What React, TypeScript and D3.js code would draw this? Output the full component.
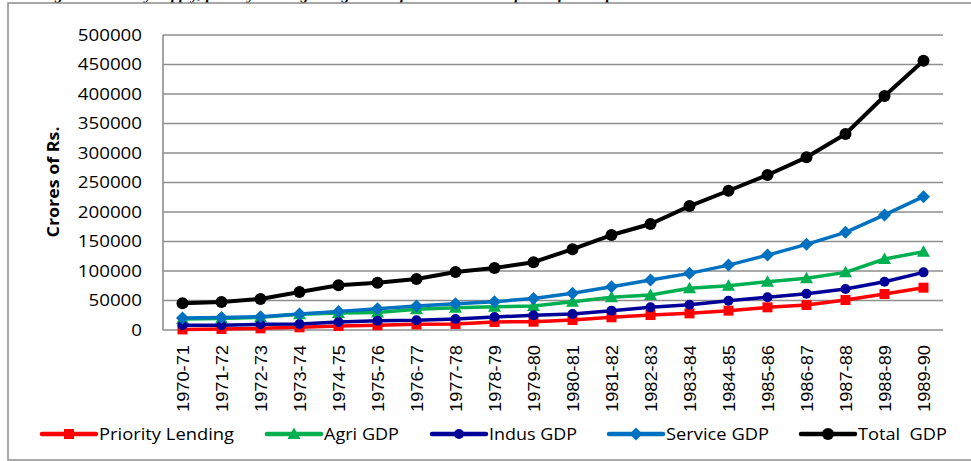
import { useMemo } from "react";
import * as d3 from "d3";

const W = 971;
const H = 461;
const MARGIN = { top: 35, right: 28, bottom: 131, left: 163 };

const years = [
  "1970-71", "1971-72", "1972-73", "1973-74", "1974-75", "1975-76", "1976-77",
  "1977-78", "1978-79", "1979-80", "1980-81", "1981-82", "1982-83", "1983-84",
  "1984-85", "1985-86", "1986-87", "1987-88", "1988-89", "1989-90",
];

const priorityLending = [1000, 1700, 2800, 4500, 6800, 8000, 9600, 10200, 13600, 14100, 17000, 21500, 25400, 28200, 32800, 38400, 42400, 50800, 61000, 71700];
const agriGdp = [18500, 19500, 21500, 26500, 29000, 29500, 35000, 37800, 39500, 40700, 48000, 55400, 59300, 70600, 75100, 81900, 87600, 97700, 120300, 132700];
const indusGdp = [8000, 8000, 9600, 10200, 13600, 15800, 16400, 18600, 22000, 24900, 27100, 32800, 38400, 42900, 49700, 55400, 61600, 69500, 81900, 97700];
const serviceGdp = [20300, 21000, 22500, 27100, 31500, 36000, 40500, 44500, 48000, 53500, 62200, 73400, 84700, 96000, 110000, 127000, 145200, 165500, 195000, 226000];
const totalGdp = [45300, 47500, 52500, 64400, 75700, 80200, 86400, 98300, 105000, 115000, 137000, 161000, 179700, 210000, 236000, 262700, 292700, 332200, 396600, 456400];

const yTicks = [0, 50000, 100000, 150000, 200000, 250000, 300000, 350000, 400000, 450000, 500000];

const series = [
  { name: "Priority Lending", values: priorityLending, color: "#ff0000", marker: "square", width: 3.5 },
  { name: "Agri GDP", values: agriGdp, color: "#00b050", marker: "triangle", width: 3.5 },
  { name: "Indus GDP", values: indusGdp, color: "#000099", marker: "circle", width: 3.5 },
  { name: "Service GDP", values: serviceGdp, color: "#0070c0", marker: "diamond", width: 3.5 },
  { name: "Total  GDP", values: totalGdp, color: "#000000", marker: "bigcircle", width: 4 },
];

// legend positions and label widths
const legendX = [42, 267, 432, 609, 801];
const legendTextW = [135, 75, 88, 103, 89];

const Marker = ({ type, x, y, color }: { type: string; x: number; y: number; color: string }) => {
  if (type === "square") return <rect x={x - 5} y={y - 5} width={10} height={10} fill={color} />;
  if (type === "triangle")
    return <path d={`M${x},${y - 6.5}L${x + 6.5},${y + 5}L${x - 6.5},${y + 5}Z`} fill={color} />;
  if (type === "diamond")
    return <path d={`M${x},${y - 6.5}L${x + 6.5},${y}L${x},${y + 6.5}L${x - 6.5},${y}Z`} fill={color} />;
  if (type === "bigcircle") return <circle cx={x} cy={y} r={6} fill={color} />;
  return <circle cx={x} cy={y} r={5} fill={color} />;
};

export default function App() {
  const boundsW = W - MARGIN.left - MARGIN.right;
  const boundsH = H - MARGIN.top - MARGIN.bottom;

  const xScale = useMemo(
    () => d3.scaleBand().domain(years).range([0, boundsW]),
    [boundsW]
  );
  const yScale = useMemo(
    () => d3.scaleLinear().domain([0, 500000]).range([boundsH, 0]),
    [boundsH]
  );

  const line = d3
    .line<number>()
    .x((_, i) => (xScale(years[i]) ?? 0) + xScale.bandwidth() / 2)
    .y((d) => yScale(d));

  return (
    <svg
      width={W}
      height={H}
      style={{ position: "absolute", left: 0, top: 0, background: "#fff" }}
    >
      {/* caption of the page, cut off above the frame */}
      <text
        x={40}
        y={-1}
        fontFamily="Liberation Serif"
        fontStyle="italic"
        fontWeight="bold"
        fontSize={16}
        fill="#000"
      >
        Figure 4: Money supply, priority lending and growth of GDP at current prices for the period 1970-71 to 1989-90
      </text>
      <rect x={8} y={3} width={W} height={457} fill="none" stroke="#8c8c8c" strokeWidth={1.5} />

      <g transform={`translate(${MARGIN.left},${MARGIN.top})`}>
        {yTicks.map((t) => (
          <g key={t}>
            <line x1={0} x2={boundsW} y1={yScale(t)} y2={yScale(t)} stroke="#8e8e8e" strokeWidth={1.6} />
            <text
              x={-21}
              y={yScale(t)}
              dy="0.36em"
              textAnchor="end"
              fontFamily="Open Sans"
              fontSize={16}
              fill="#000"
              textLength={String(t).length * 10.7}
              lengthAdjust="spacingAndGlyphs"
            >
              {t}
            </text>
          </g>
        ))}
        <line x1={0} x2={0} y1={0} y2={boundsH} stroke="#8e8e8e" strokeWidth={1.6} />

        <text
          transform={`translate(${53 - MARGIN.left},${182 - MARGIN.top}) rotate(-90)`}
          textAnchor="middle"
          dy="0.35em"
          fontFamily="Open Sans"
          fontWeight="bold"
          fontSize={16}
          textLength={111}
          lengthAdjust="spacingAndGlyphs"
        >
          Crores of Rs.
        </text>

        {years.map((yr) => (
          <text
            key={yr}
            transform={`translate(${(xScale(yr) ?? 0) + xScale.bandwidth() / 2},${boundsH + 15}) rotate(-90)`}
            textAnchor="end"
            dy="0.36em"
            fontFamily="Liberation Sans"
            fontSize={17}
            textLength={67}
            lengthAdjust="spacingAndGlyphs"
          >
            {yr}
          </text>
        ))}

        {series.map((s) => (
          <g key={s.name}>
            <path d={line(s.values) ?? ""} fill="none" stroke={s.color} strokeWidth={s.width} strokeLinejoin="round" />
            {s.values.map((v, i) => (
              <Marker
                key={i}
                type={s.marker}
                x={(xScale(years[i]) ?? 0) + xScale.bandwidth() / 2}
                y={yScale(v)}
                color={s.color}
              />
            ))}
          </g>
        ))}
      </g>

      {series.map((s, i) => (
        <g key={s.name} transform={`translate(${legendX[i]},434)`}>
          <line x1={0} x2={54} y1={0} y2={0} stroke={s.color} strokeWidth={4.5} strokeLinecap="round" />
          <Marker type={s.marker} x={27} y={0} color={s.color} />
          <text
            x={57}
            dy="0.36em"
            fontFamily="Open Sans"
            fontSize={17}
            fill="#000"
            textLength={legendTextW[i]}
            lengthAdjust="spacingAndGlyphs"
            style={{ whiteSpace: "pre" }}
          >
            {s.name}
          </text>
        </g>
      ))}
    </svg>
  );
}
